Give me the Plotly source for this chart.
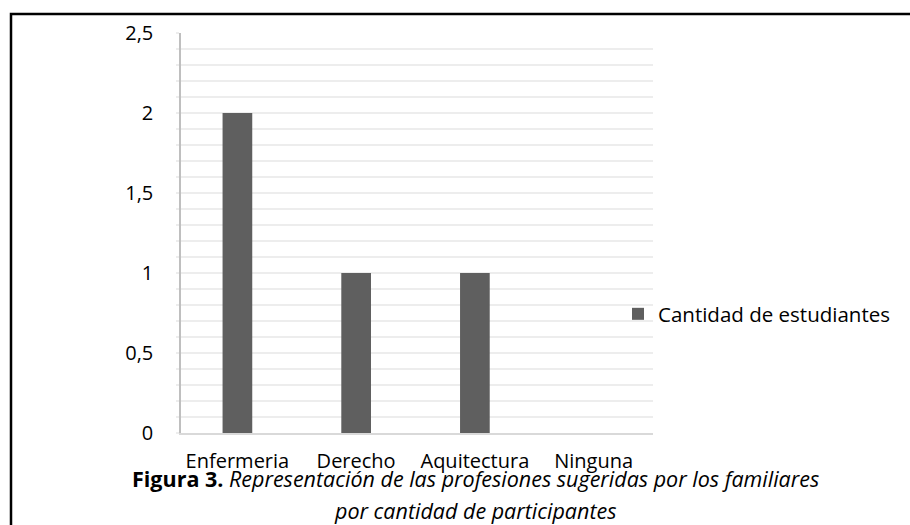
import plotly.graph_objects as go

categories = ["Enfermeria", "Derecho", "Aquitectura", "Ninguna"]
values = [2, 1, 1, 0]
series_name = "Cantidad de estudiantes"
y_tickvals = [0, 0.5, 1, 1.5, 2, 2.5]
y_ticktext = ["0", "0,5", "1", "1,5", "2", "2,5"]
caption_bold = "Figura 3."
caption_line1 = "Representación de las profesiones sugeridas por los familiares"
caption_line2 = "por cantidad de participantes"

FONT = "Open Sans"
W, H = 910, 525
L, R, T, B = 181, 257, 33, 92
pw, ph = W - L - R, H - T - B

def px_x(p):
    return (p - L) / pw

def px_y(p):
    return (H - B - p) / ph

fig = go.Figure()
fig.add_trace(go.Bar(
    x=list(range(len(categories))), y=values, name=series_name,
    marker=dict(color="#5f5f5f", line=dict(width=0)),
    showlegend=True,
))

fig.update_layout(
    width=W, height=H,
    margin=dict(l=L, r=R, t=T, b=B, pad=0),
    paper_bgcolor="white", plot_bgcolor="white",
    bargap=0.75,
    font=dict(family=FONT, size=20, color="#000000"),
    showlegend=True,
    legend=dict(
        x=px_x(618), y=px_y(314), xanchor="left", yanchor="middle",
        font=dict(family=FONT, size=20.5, color="#000000"),
        bgcolor="rgba(0,0,0,0)", borderwidth=0,
    ),
    xaxis=dict(
        range=[-0.475, 3.5],
        tickmode="array", tickvals=list(range(len(categories))), ticktext=categories,
        showgrid=False, zeroline=False,
        showline=True, linecolor="#d9d9d9", linewidth=2,
        ticks="", ticklabelstandoff=9,
        tickfont=dict(family=FONT, size=20, color="#000000"),
        fixedrange=True,
    ),
    yaxis=dict(
        range=[0, 2.5],
        tickmode="array", tickvals=y_tickvals, ticktext=y_ticktext,
        showgrid=False, zeroline=False,
        showline=True, linecolor="#bfbfbf", linewidth=1.5,
        ticks="", ticklabelstandoff=22,
        tickfont=dict(family=FONT, size=20, color="#000000"),
        minor=dict(tickmode="linear", tick0=0, dtick=0.1, showgrid=True,
                   gridcolor="#ededed", gridwidth=1.5,
                   ticks="outside", ticklen=3, tickcolor="#ededed", tickwidth=1.5),
        fixedrange=True,
    ),
    annotations=[
        dict(
            xref="paper", yref="paper", x=px_x(475.5), y=px_y(478),
            xanchor="center", yanchor="middle", showarrow=False, align="center",
            text=f"<b>{caption_bold}</b> <i>{caption_line1}</i>",
            font=dict(family=FONT, size=21.5, color="#000000"),
        ),
        dict(
            xref="paper", yref="paper", x=px_x(474.5), y=px_y(510.5),
            xanchor="center", yanchor="middle", showarrow=False, align="center",
            text=f"<i>{caption_line2}</i>",
            font=dict(family=FONT, size=21.5, color="#000000"),
        ),
    ],
    shapes=[dict(
        type="rect", xref="paper", yref="paper",
        x0=px_x(11), x1=px_x(930), y0=px_y(540), y1=px_y(14),
        line=dict(color="#000000", width=2.5), fillcolor="rgba(0,0,0,0)", layer="above",
    )],
)

fig.write_html(
    "out.html",
    config={"displayModeBar": False},
    post_script="document.body.style.margin='0';document.body.style.padding='0';",
)
